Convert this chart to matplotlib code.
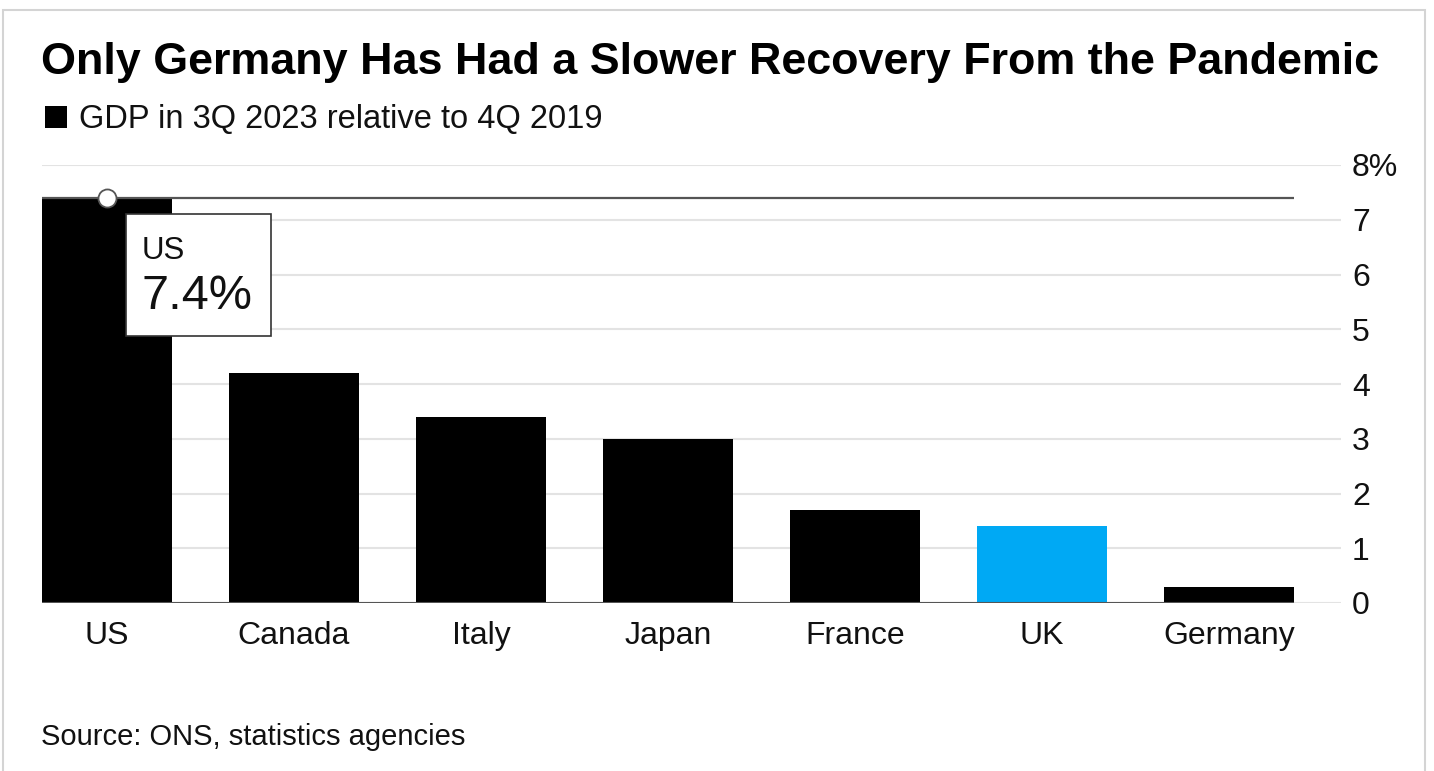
import matplotlib
matplotlib.use("Agg")
import matplotlib.pyplot as plt
from matplotlib.patches import Rectangle

countries = ["US", "Canada", "Italy", "Japan", "France", "UK", "Germany"]
gdp_change = [7.4, 4.2, 3.4, 3.0, 1.7, 1.4, 0.3]
highlight = "UK"
y_ticks = [0, 1, 2, 3, 4, 5, 6, 7, 8]
y_tick_labels = ["0", "1", "2", "3", "4", "5", "6", "7", "8%"]

BLACK = "#000000"
BLUE = "#00a9f4"
GRID = "#e3e3e3"
LINE = "#555555"
TEXT = "#111111"

plt.rcParams["font.family"] = ["Liberation Sans", "DejaVu Sans"]

W, H = 1434, 771
fig = plt.figure(figsize=(W / 100, H / 100), dpi=100, facecolor="white")

# outer frame
fig.patches.append(Rectangle((3 / W, -0.01), (1425 - 3) / W, 1 - 10 / H + 0.01,
                             transform=fig.transFigure, fill=False,
                             edgecolor="#d4d4d4", linewidth=1.5))

fig.text(41 / W, 1 - 74 / H, "Only Germany Has Had a Slower Recovery From the Pandemic",
         fontsize=32.3, fontweight="bold", color=BLACK, va="baseline", ha="left")
fig.patches.append(Rectangle((45 / W, 1 - 128 / H), 22 / W, 22 / H,
                             transform=fig.transFigure, facecolor=BLACK, edgecolor="none"))
fig.text(79 / W, 1 - 128 / H, "GDP in 3Q 2023 relative to 4Q 2019",
         fontsize=23.5, color=TEXT, va="baseline", ha="left")
fig.text(41 / W, 1 - 745 / H, "Source: ONS, statistics agencies",
         fontsize=21, color=TEXT, va="baseline", ha="left")

ax = fig.add_axes([42 / W, 1 - 603 / H, (1341 - 42) / W, (603 - 165) / H])
x = list(range(len(countries)))
colors = [BLUE if c == highlight else BLACK for c in countries]
bw = 0.695
ax.bar(x, gdp_change, width=bw, color=colors, zorder=2)

x0, x1 = -bw / 2, len(countries) - 1 + bw / 2
ax.set_xlim(x0, x1 + 0.251)
ax.set_ylim(0, 8)

for t in y_ticks:
    ax.axhline(t, color=GRID, linewidth=1.5, zorder=0)
ax.hlines(0, x0, x1, color=LINE, linewidth=1.5, zorder=3)

# reference line at the US value
us = gdp_change[0]
ax.hlines(us, x0, x1, color=LINE, linewidth=1.6, zorder=3)
ax.plot([0], [us], marker="o", markersize=13, markerfacecolor="white",
        markeredgecolor=LINE, markeredgewidth=1.3, zorder=5, clip_on=False)

# annotation box
ax.add_patch(Rectangle((0.101, 4.88), 0.776, 2.22, facecolor="white",
                       edgecolor="#333333", linewidth=1.2, zorder=4))
ax.text(0.187, 6.28, countries[0], fontsize=22.5, color=TEXT, va="baseline", zorder=6)
ax.text(0.187, 5.37, f"{us:.1f}%", fontsize=35, color=TEXT, va="baseline", zorder=6)

ax.set_xticks(x)
ax.set_xticklabels(countries, fontsize=23, color=TEXT)
ax.set_yticks(y_ticks)
ax.set_yticklabels(y_tick_labels, fontsize=23, color=TEXT)
ax.yaxis.tick_right()
ax.tick_params(axis="both", length=0)
ax.tick_params(axis="x", pad=13)
ax.tick_params(axis="y", pad=8)
for s in ax.spines.values():
    s.set_visible(False)

fig.savefig("out.png", dpi=100, facecolor="white")
